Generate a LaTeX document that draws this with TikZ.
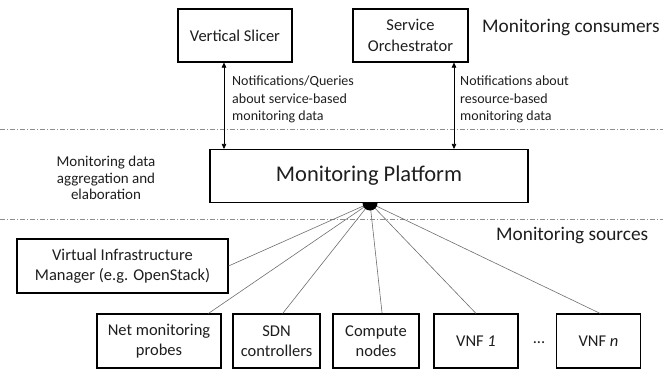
\documentclass[tikz,border=0pt]{standalone}
\usepackage{fontspec}
\setmainfont{Carlito}
\usetikzlibrary{arrows.meta,calc}
\definecolor{txt}{HTML}{1E1E1E}
\definecolor{conn}{HTML}{6E6E6E}
\definecolor{sepc}{HTML}{8C8C8C}
\tikzset{
  box/.style={draw=black, line width=1.1pt, fill=white, inner sep=0pt, align=center, text=txt,
    font=\fontsize{16.5}{20.5}\selectfont},
  lbl/.style={inner sep=0pt, align=left, text=txt, font=\fontsize{14}{17.5}\selectfont},
  title/.style={inner sep=0pt, text=txt, font=\fontsize{19.3}{24}\selectfont},
  conline/.style={draw=conn, line width=0.6pt},
  arr/.style={draw=black, line width=0.6pt, {Triangle[width=4.5pt,length=5pt]}-{Triangle[width=4.5pt,length=5pt]}},
  sepline/.style={draw=sepc, line width=0.7pt, dash pattern=on 5pt off 2pt on 1pt off 2pt}
}
\begin{document}
\begin{tikzpicture}[x=1pt,y=-1pt]
\useasboundingbox (0,0) rectangle (663,369);
% separators
\coordinate (s1l) at (0,129); \coordinate (s1r) at (663,129);
\coordinate (s2l) at (0,219); \coordinate (s2r) at (663,219);
\draw[sepline] (s1l) -- (s1r);
\draw[sepline] (s2l) -- (s2r);
% consumers
\node[box, minimum width=114pt, minimum height=53pt] (vs) at (235,35.5) {Vertical Slicer};
\node[box, minimum width=115pt, minimum height=53pt] (so) at (410.5,35.5) {Service\\Orchestrator};
\node[title, anchor=west] (tcons) at (482,28) {Monitoring consumers};
% sources
\node[box, minimum width=211pt, minimum height=54pt] (vim) at (122.5,266) {Virtual Infrastructure\\Manager (e.g. OpenStack)};
\node[box, minimum width=124pt, minimum height=54pt] (net) at (159,341) {Net monitoring\\probes};
\node[box, minimum width=87pt, minimum height=54pt] (sdn) at (276.5,341) {SDN\\controllers};
\node[box, minimum width=86pt, minimum height=54pt] (cmp) at (376,341) {Compute\\nodes};
\node[box, minimum width=84pt, minimum height=54pt] (vnf1) at (476,341) {VNF \textit{1}};
\node[inner sep=0pt, text=txt, font=\fontsize{16.5}{20.5}\selectfont] (dots) at (539,343) {...};
\node[box, minimum width=84pt, minimum height=54pt] (vnfn) at (598.5,341) {VNF \textit{n}};
\node[title, anchor=west] (tsrc) at (496,236) {Monitoring sources};
\node[lbl, align=center, font=\fontsize{15}{16.5}\selectfont] (tagg) at (106,178) {Monitoring data\\aggregation and\\elaboration};
% hub connections
\coordinate (hub) at (370,203);
\draw[conline] (hub) -- (vim.east);
\draw[conline] (hub) -- ($(net.north west)!0.895!(net.north east)$);
\draw[conline] (hub) -- ($(sdn.north west)!0.57!(sdn.north east)$);
\draw[conline] (hub) -- ($(cmp.north west)!0.57!(cmp.north east)$);
\draw[conline] (hub) -- ($(vnf1.north west)!0.5!(vnf1.north east)$);
\draw[conline] (hub) -- ($(vnfn.north west)!0.52!(vnfn.north east)$);
\node[circle, fill=black, inner sep=0pt, minimum size=15pt] (hubdot) at (hub) {};
% platform
\node[box, minimum width=318pt, minimum height=53pt, font=\fontsize{22.5}{27}\selectfont] (mp) at (369,176) {Monitoring Platform};
% arrows
\coordinate (ax1) at (224,0);
\coordinate (ax2) at (454,0);
\draw[arr] (vs.south -| ax1) -- (mp.north -| ax1);
\draw[arr] (so.south -| ax2) -- (mp.north -| ax2);
\node[lbl, anchor=west] (l1) at (232,99.5) {Notifications/Queries\\about service-based\\monitoring data};
\node[lbl, anchor=west] (l2) at (460,99.5) {Notifications about\\resource-based\\monitoring data};
\end{tikzpicture}
\end{document}
